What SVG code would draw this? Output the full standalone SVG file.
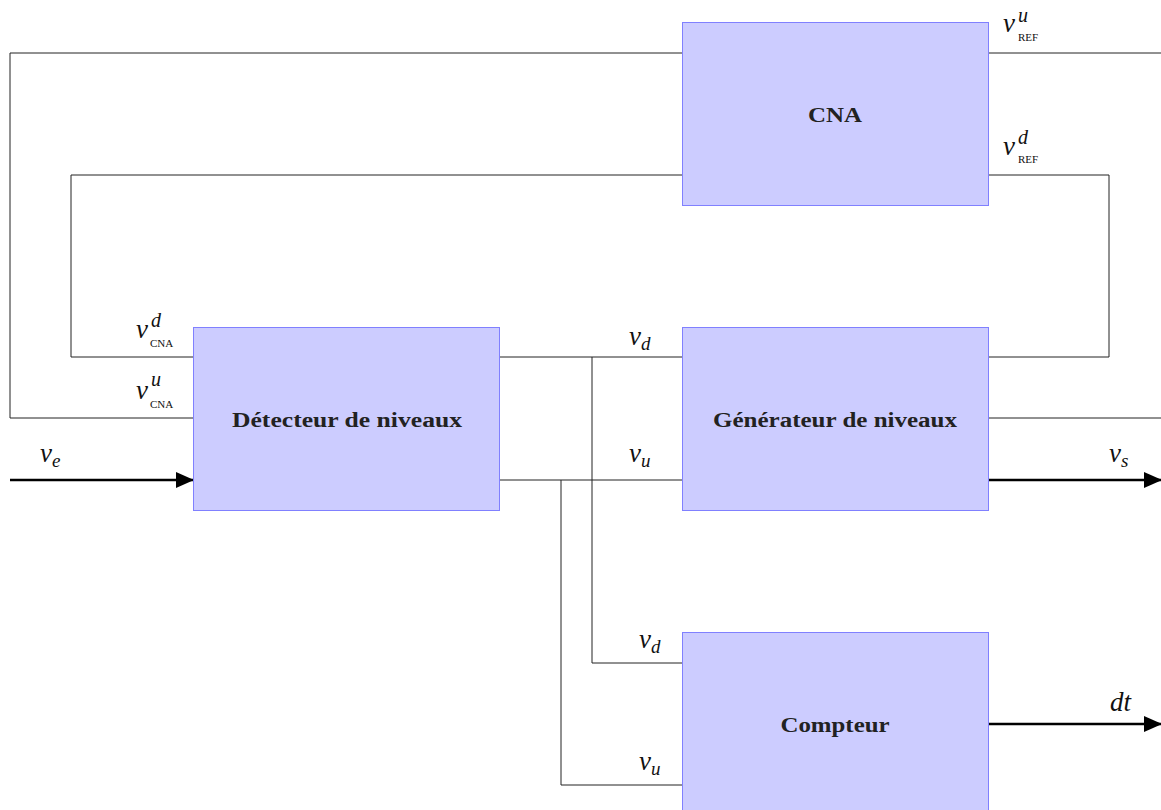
<svg xmlns="http://www.w3.org/2000/svg" width="1161" height="810" viewBox="0 0 1161 810">
<defs>
<style>
.box{fill:#ccccff;stroke:#8080ff;stroke-width:1}
.lbl{font-family:"Liberation Serif",serif;font-weight:bold;font-size:20px;fill:#222;text-anchor:middle}
.w{fill:none;stroke:#222;stroke-width:1}
.thick{fill:none;stroke:#000;stroke-width:2.5}
.m{font-family:"Liberation Serif",serif;font-style:italic;font-size:27px;fill:#111}
.s{font-family:"Liberation Serif",serif;font-style:italic;font-size:20px;fill:#111}
.sc{font-family:"Liberation Serif",serif;font-size:11px;fill:#111}
</style>
<marker id="arrB" markerWidth="18" markerHeight="16" refX="17" refY="8" orient="auto" markerUnits="userSpaceOnUse" viewBox="0 0 18 16">
<path d="M0,0 L18,8 L0,16 Z" fill="#000"/>
</marker>
</defs>
<rect width="1161" height="810" fill="#fff"/>
<g id="connectors">
<polyline class="w" points="682,53 10,53 10,418 193,418"/>
<line class="w" x1="988" y1="53" x2="1161" y2="53"/>
<polyline class="w" points="682,175 71,175 71,357 193,357"/>
<polyline class="w" points="988,175 1109,175 1109,357 988,357"/>
<line class="w" x1="499" y1="357" x2="682" y2="357"/>
<polyline class="w" points="592,357 592,663 682,663"/>
<line class="w" x1="499" y1="480" x2="682" y2="480"/>
<polyline class="w" points="561,480 561,785 682,785"/>
<line class="w" x1="988" y1="418" x2="1161" y2="418" stroke="#555"/>
<line class="thick" x1="10" y1="480" x2="193" y2="480" marker-end="url(#arrB)"/>
<line class="thick" x1="988" y1="480" x2="1161" y2="480" marker-end="url(#arrB)"/>
<line class="thick" x1="988" y1="724" x2="1161" y2="724" marker-end="url(#arrB)"/>
</g>
<g id="cna">
<rect class="box" x="682.5" y="22.5" width="306" height="183"/>
<text class="lbl" x="835" y="122" textLength="54" lengthAdjust="spacingAndGlyphs">CNA</text>
</g>
<g id="detecteur">
<rect class="box" x="193.5" y="327.5" width="306" height="183"/>
<text class="lbl" x="347" y="427" textLength="230" lengthAdjust="spacingAndGlyphs">Détecteur de niveaux</text>
</g>
<g id="generateur">
<rect class="box" x="682.5" y="327.5" width="306" height="183"/>
<text class="lbl" x="835" y="427" textLength="244" lengthAdjust="spacingAndGlyphs">Générateur de niveaux</text>
</g>
<g id="compteur">
<rect class="box" x="682.5" y="632.5" width="306" height="183"/>
<text class="lbl" x="835" y="732" textLength="109" lengthAdjust="spacingAndGlyphs">Compteur</text>
</g>
<g id="labels">
<text class="m" x="1003" y="32">v</text><text class="s" x="1018" y="22">u</text><text class="sc" x="1018" y="41">REF</text>
<text class="m" x="1003" y="155">v</text><text class="s" x="1018" y="144">d</text><text class="sc" x="1018" y="163">REF</text>
<text class="m" x="136" y="338">v</text><text class="s" x="151" y="327">d</text><text class="sc" x="150" y="347">CNA</text>
<text class="m" x="136" y="399">v</text><text class="s" x="151" y="386">u</text><text class="sc" x="150" y="408">CNA</text>
<text class="m" x="40" y="462">v<tspan font-size="19" dy="5">e</tspan></text>
<text class="m" x="629" y="345">v<tspan font-size="19" dy="5">d</tspan></text>
<text class="m" x="629" y="462">v<tspan font-size="19" dy="5">u</tspan></text>
<text class="m" x="1109" y="462">v<tspan font-size="19" dy="5">s</tspan></text>
<text class="m" x="639" y="648">v<tspan font-size="19" dy="5">d</tspan></text>
<text class="m" x="639" y="770">v<tspan font-size="19" dy="5">u</tspan></text>
<text class="m" x="1110" y="711">dt</text>
</g>
</svg>
